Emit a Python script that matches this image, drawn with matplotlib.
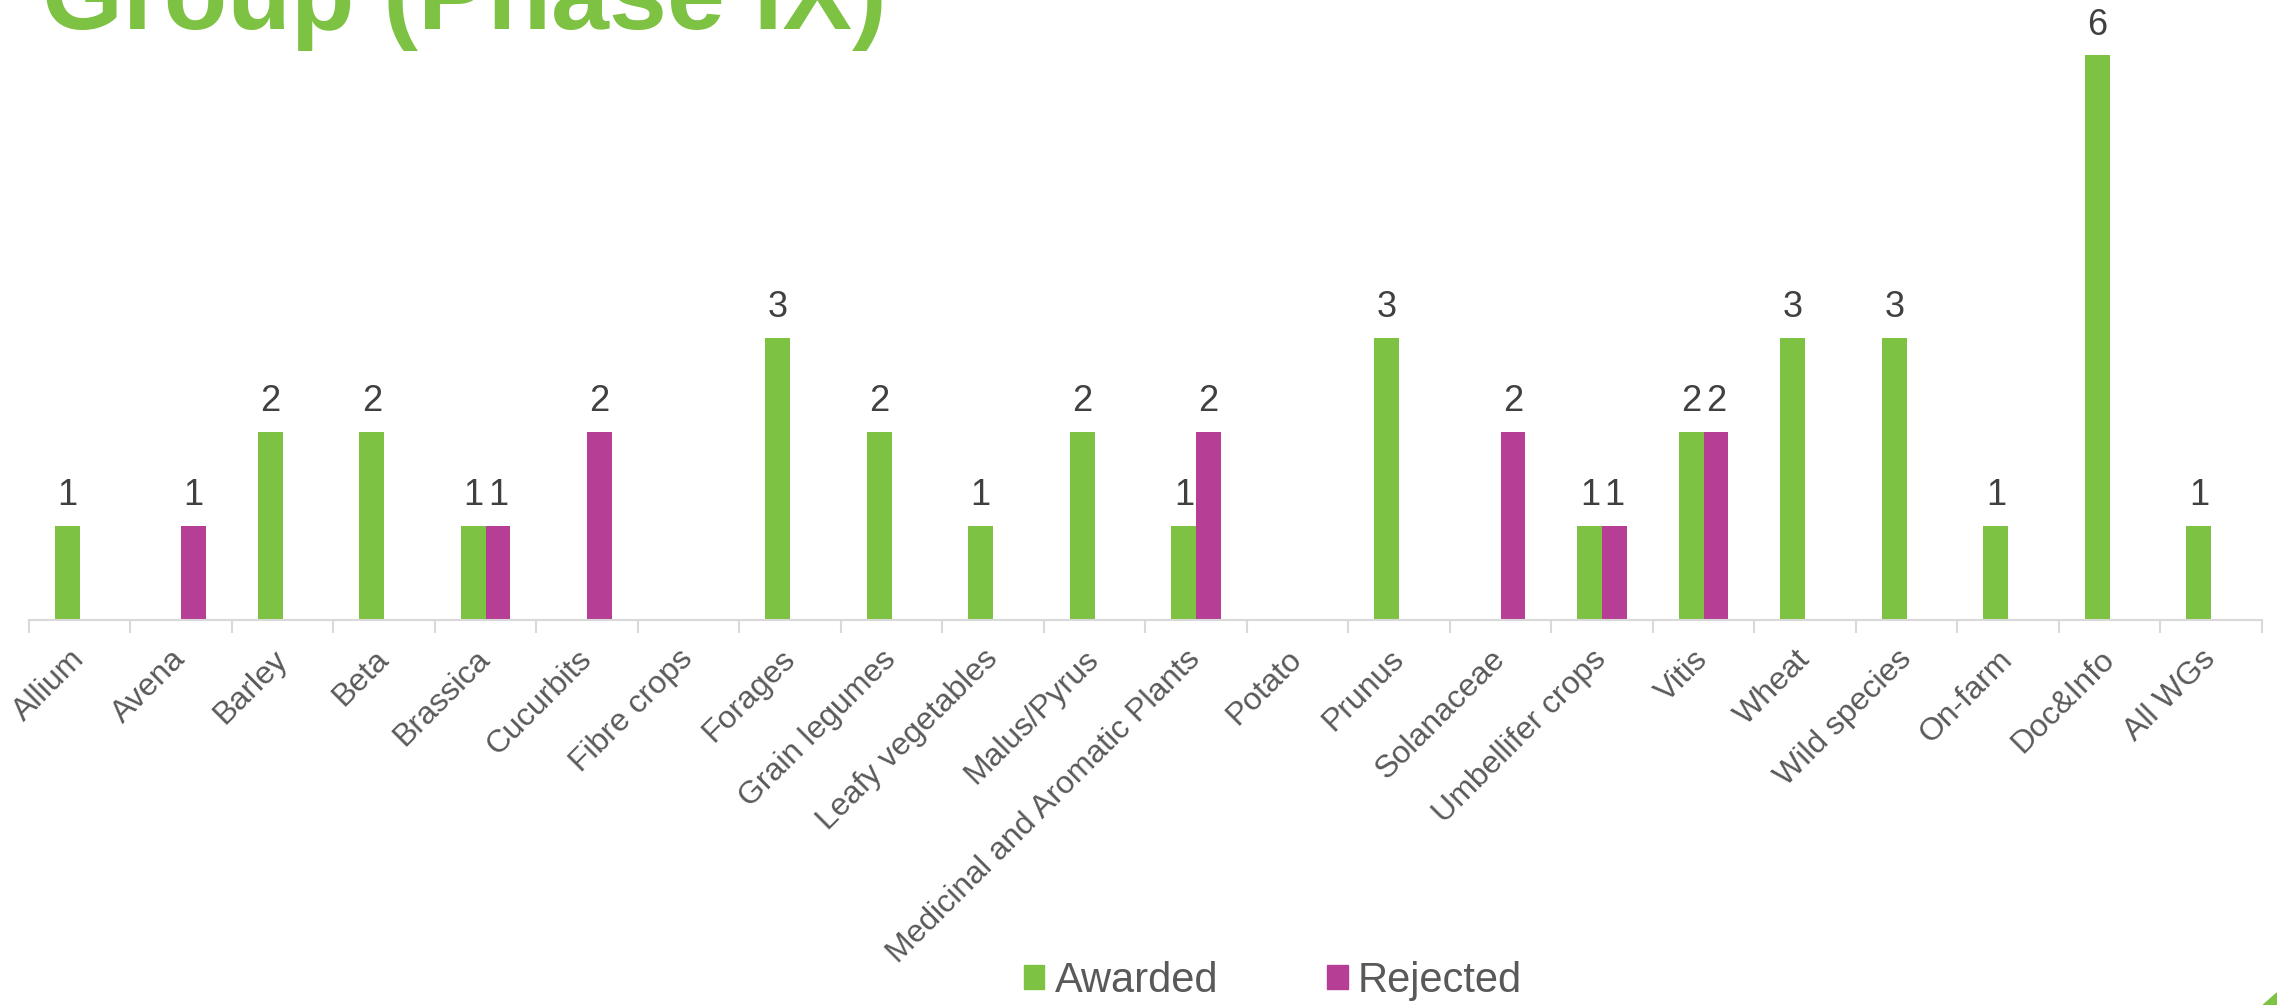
import numpy as np
import matplotlib
matplotlib.use("Agg")
import matplotlib.pyplot as plt
from matplotlib.patches import Patch, Polygon

plt.rcParams["font.family"] = ["Liberation Sans", "DejaVu Sans"]

# ---------------------------------------------------
# Data
# ---------------------------------------------------

categories = [
    "Allium", "Avena", "Barley", "Beta", "Brassica", "Cucurbits",
    "Fibre crops", "Forages", "Grain legumes", "Leafy vegetables",
    "Malus/Pyrus", "Medicinal and Aromatic Plants", "Potato", "Prunus",
    "Solanaceae", "Umbellifer crops", "Vitis", "Wheat", "Wild species",
    "On-farm", "Doc&Info", "All WGs",
]
awarded = [1, 0, 2, 2, 1, 0, 0, 3, 2, 1, 2, 1, 0, 3, 0, 1, 2, 3, 3, 1, 6, 1]
rejected = [0, 1, 0, 0, 1, 2, 0, 0, 0, 0, 0, 2, 0, 0, 2, 1, 2, 0, 0, 0, 0, 0]

GREEN = "#7DC242"
PURPLE = "#B63F95"

# ---------------------------------------------------
# Figure
# ---------------------------------------------------

fig = plt.figure(figsize=(22.77, 10.05), dpi=100)
ax = fig.add_axes([0.0127, 0.383, 0.9807, 0.6086])

x = np.arange(len(categories))
w = 0.244

b1 = ax.bar(x - w / 2, awarded, w, color=GREEN, label="Awarded")
b2 = ax.bar(x + w / 2, rejected, w, color=PURPLE, label="Rejected")

for bars, vals in ((b1, awarded), (b2, rejected)):
    ax.bar_label(bars, labels=[str(v) if v else "" for v in vals],
                 padding=9, fontsize=26, color="#404040")

ax.set_xlim(-0.5, len(categories) - 0.5)
ax.set_ylim(0, 6.5)

for s in ("top", "right", "left"):
    ax.spines[s].set_visible(False)
ax.spines["bottom"].set_color("#D9D9D9")
ax.spines["bottom"].set_linewidth(1.5)
ax.set_yticks([])

ax.set_xticks(x)
ax.set_xticklabels(categories, rotation=45, ha="right", va="center",
                   rotation_mode="anchor", fontsize=23, color="#595959")
ax.tick_params(axis="x", which="major", length=0, pad=25)
ax.set_xticks(np.arange(len(categories) + 1) - 0.5, minor=True)
ax.tick_params(axis="x", which="minor", length=9, width=1.5, color="#D9D9D9")

# title (cut at the top as in the slide)
fig.text(0.0185, 0.971, "Group (Phase IX)", fontsize=75, fontweight="bold",
         color=GREEN, ha="left", va="baseline")

handles = [Patch(color=GREEN, label="Awarded"), Patch(color=PURPLE, label="Rejected")]
fig.legend(handles=handles, loc="center", bbox_to_anchor=(0.559, 0.024), ncol=2,
           frameon=False, fontsize=30, labelcolor="#595959",
           handlelength=0.5, handleheight=0.5, handletextpad=0.25,
           columnspacing=2.6, borderaxespad=0)

# small slide corner mark
fig.patches.append(Polygon([[1.0, 0.0], [0.994, 0.0], [1.0, 0.012]], closed=True,
                           transform=fig.transFigure, color=GREEN))

fig.savefig("out.png", dpi=100)
